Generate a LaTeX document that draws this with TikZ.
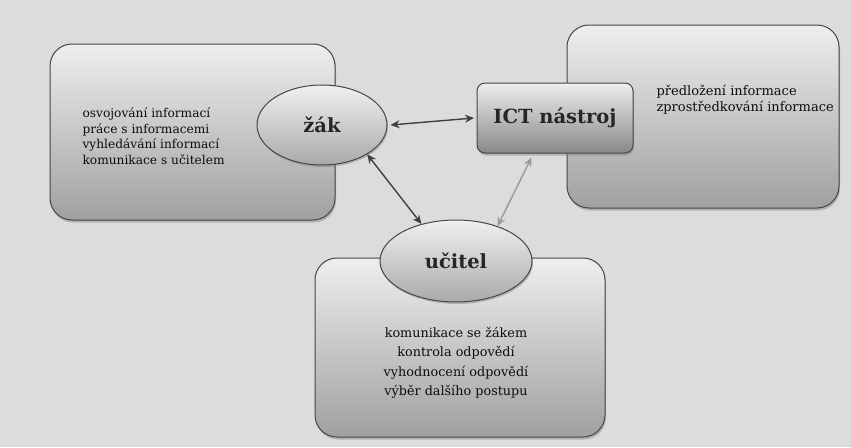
\documentclass[tikz,border=0pt]{standalone}
\usepackage{fontspec}
\setmainfont{DejaVu Serif}
\usetikzlibrary{arrows.meta,shadows,shapes.geometric}
\definecolor{bgc}{RGB}{220,220,220}
\definecolor{frame}{RGB}{70,70,70}
\definecolor{topc}{RGB}{238,238,238}
\definecolor{botc}{RGB}{160,160,160}
\tikzset{
  bigbox/.style={draw=frame, line width=1pt, rounded corners=22pt, top color=topc, bottom color=botc,
    drop shadow={shadow xshift=1pt, shadow yshift=-2.5pt, opacity=0.45}},
  oval/.style={ellipse, draw=frame, line width=1pt, top color=topc!90!white, bottom color=botc!90!white,
    drop shadow={shadow xshift=1pt, shadow yshift=-2pt, opacity=0.45}, font=\fontsize{19.5}{22}\selectfont\bfseries, text=black!85},
  ictbox/.style={draw=frame, line width=1pt, rounded corners=8pt, top color=topc, bottom color=botc!85!black,
    drop shadow={shadow xshift=1pt, shadow yshift=-2.5pt, opacity=0.45}, font=\fontsize{19.5}{22}\selectfont\bfseries, text=black!85},
  txt/.style={font=\fontsize{12.2}{15.5}\selectfont, text=black!95},
  darrow/.style={line width=1.4pt, draw=black!75, {Stealth[length=9pt,width=8pt]}-{Stealth[length=9pt,width=8pt]}},
  larrow/.style={line width=1.4pt, draw=black!40, {Stealth[length=9pt,width=8pt]}-{Stealth[length=9pt,width=8pt]}}
}
\begin{document}
\begin{tikzpicture}[x=1pt,y=-1pt]
\fill[bgc] (0,0) rectangle (851,447);
\useasboundingbox (0,0) rectangle (851,447);
% left
\node[bigbox, minimum width=285pt, minimum height=176pt] (lbox) at (192.5,132) {};
\node[txt, align=left, anchor=west] (ltxt) at (79,136) {osvojování informací\\práce s informacemi\\vyhledávání informací\\komunikace s učitelem};
\node[oval, minimum width=130pt, minimum height=80pt] (zak) at (322,125) {žák};
% right
\node[bigbox, minimum width=272pt, minimum height=183pt] (rbox) at (703,116.5) {};
\node[txt, align=left, anchor=west, font=\fontsize{13}{16}\selectfont] (rtxt) at (653,100) {předložení informace\\zprostředkování informace};
\node[ictbox, minimum width=156pt, minimum height=70pt] (ict) at (555,118) {ICT nástroj};
% bottom
\node[bigbox, minimum width=290pt, minimum height=179pt] (bbox) at (460,347.5) {};
\node[txt, align=center, font=\fontsize{12.8}{19.5}\selectfont] (btxt) at (456,363) {komunikace se žákem\\kontrola odpovědí\\vyhodnocení odpovědí\\výběr dalšího postupu};
\node[oval, minimum width=152pt, minimum height=82pt] (ucitel) at (456,261) {učitel};
% arrows
\draw[darrow] (zak.east) ++(3pt,0) coordinate (za) -- (ict.west -| 474,0) coordinate (ia);
\draw[darrow] (zak.-33) -- (ucitel.133);
\coordinate (ib) at ([xshift=55pt,yshift=-4pt]ict.south west);
\draw[larrow] (ib) -- (ucitel.40);
\end{tikzpicture}
\end{document}
